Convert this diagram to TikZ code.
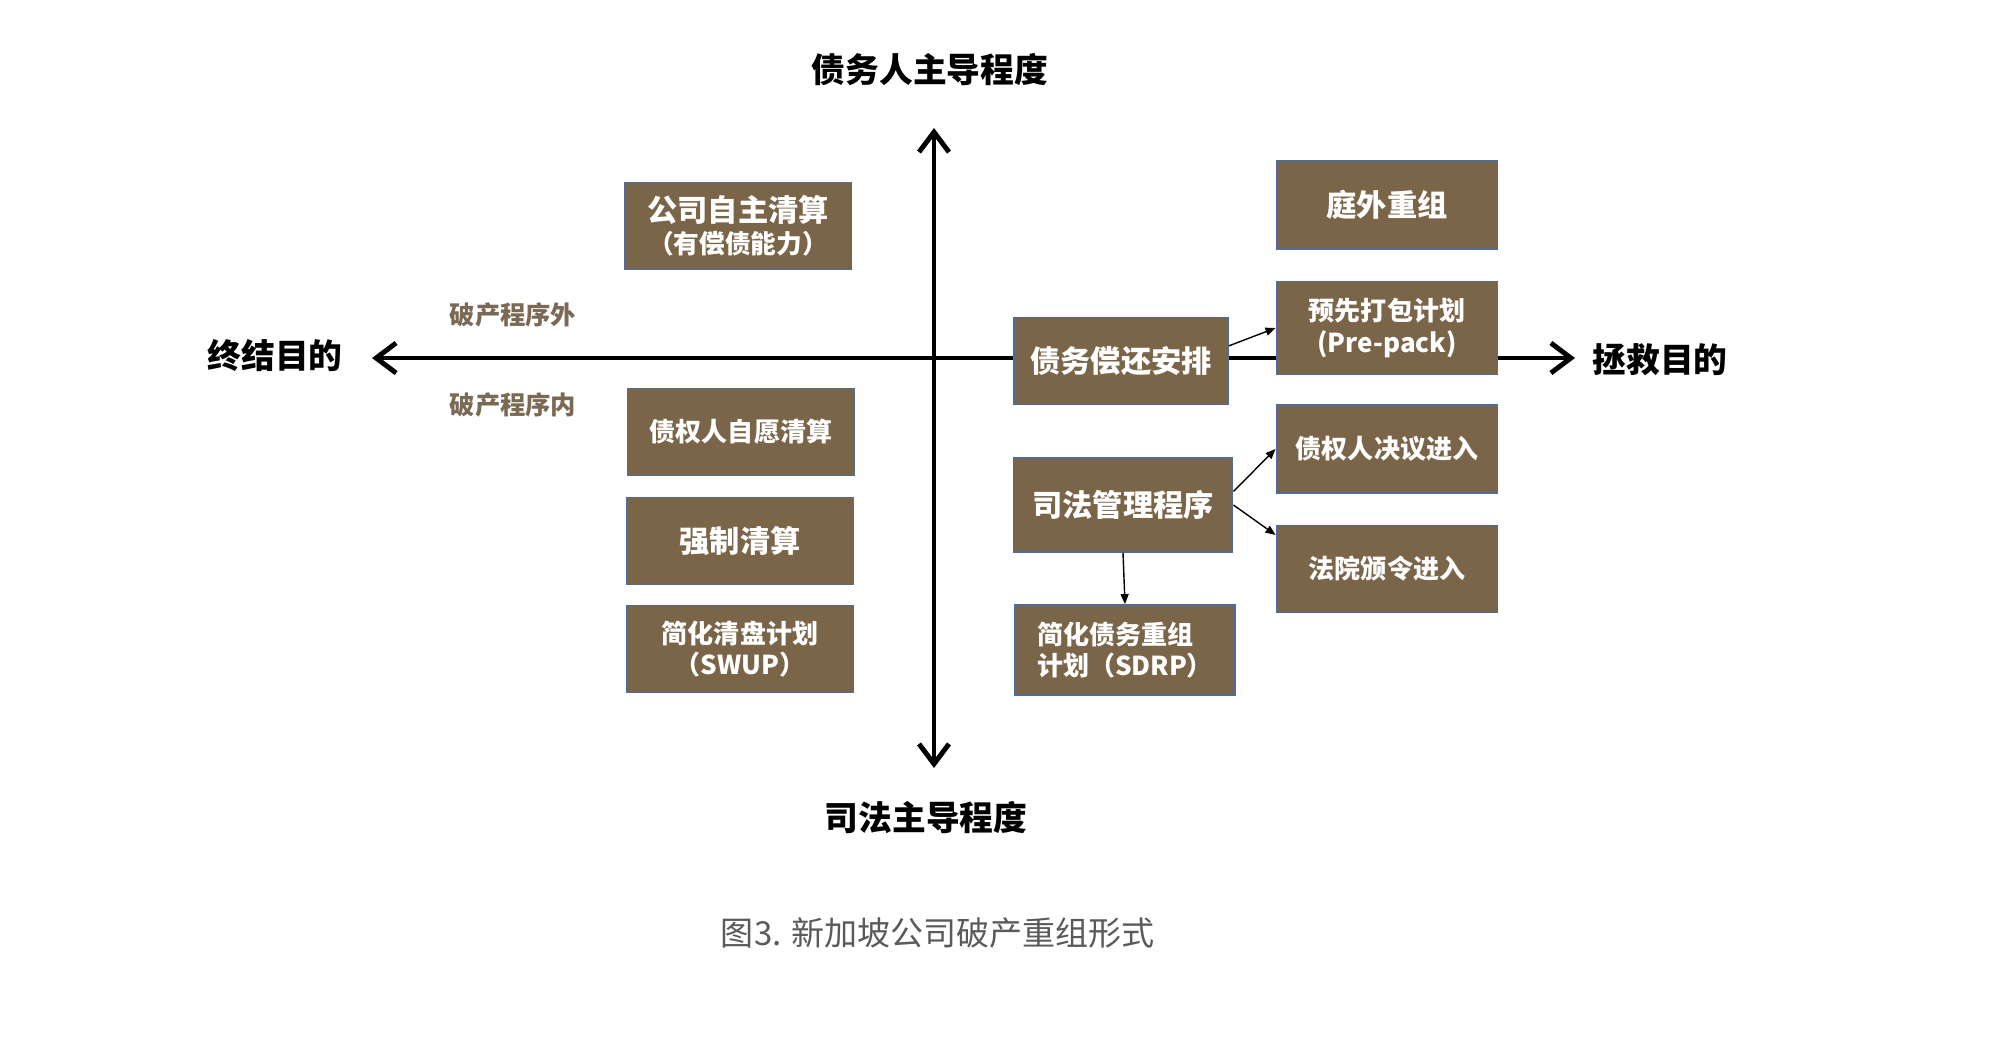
\documentclass[tikz,border=0pt]{standalone}
\usepackage{fontspec}
\setmainfont{Noto Sans CJK SC}
\usetikzlibrary{arrows.meta}
\definecolor{boxbrown}{HTML}{7B6549}
\definecolor{boxedge}{HTML}{4F6D9A}
\definecolor{notebrown}{HTML}{7A6A55}
\definecolor{capgray}{HTML}{5A5A5A}
\tikzset{
  box/.style={draw=boxedge, line width=0.5pt, fill=boxbrown, text=white,
    font=\bfseries\fontsize{8.6}{10}\selectfont, align=center, inner sep=0pt},
  smallbox/.style={box, font=\bfseries\fontsize{7.4}{9}\selectfont},
  lbox/.style={minimum width=2.27cm, minimum height=0.87cm},
  rbox/.style={minimum width=2.21cm, minimum height=0.88cm},
  axislabel/.style={font=\bfseries\fontsize{9.6}{11}\selectfont},
  note/.style={text=notebrown, font=\bfseries\fontsize{7.2}{9}\selectfont},
  axis/.style={line width=1.4pt,
    {Straight Barb[length=2mm,width=3mm]}-{Straight Barb[length=2mm,width=3mm]}},
  link/.style={line width=0.4pt, -{Triangle[length=1mm,width=0.8mm]}}
}
\begin{document}
\begin{tikzpicture}[x=0.01cm,y=-0.01cm]
    \useasboundingbox (0,0) rectangle (1991,1039);
    % axes
    \coordinate (west) at (372,358);
    \coordinate (east) at (1575,358);
    \coordinate (north) at (934,128);
    \coordinate (south) at (934,768);
    \draw[axis] (west) -- (east);
    \draw[axis] (south) -- (north);
    \node[axislabel] (endgoal) at (275,356) {终结目的};
    \node[axislabel] (rescue) at (1660,360) {拯救目的};
    \node[axislabel] (debtorled) at (930,70) {债务人主导程度};
    \node[axislabel] (courtled) at (926,818) {司法主导程度};
    \node[note] (outside) at (513,315) {破产程序外};
    \node[note] (inside) at (513,405) {破产程序内};
    % liquidation side
    \node[box, lbox] (selfliq) at (738,226)
        {公司自主清算\\[-1pt]{\fontsize{7.3}{8}\selectfont（有偿债能力）}};
    \node[smallbox, lbox] (volliq) at (741,432) {债权人自愿清算};
    \node[box, lbox] (compliq) at (740,541) {强制清算};
    \node[smallbox, lbox] (swup) at (740,649) {简化清盘计划\\（SWUP）};
    % rescue side
    \node[box, minimum width=2.14cm, minimum height=0.87cm] (repay) at (1121,361) {债务偿还安排};
    \node[box, minimum width=2.19cm, minimum height=0.94cm] (judicial) at (1123,505) {司法管理程序};
    \node[smallbox, align=left, minimum width=2.2cm, minimum height=0.9cm] (sdrp) at (1125,650)
        {简化债务重组\\计划（SDRP）};
    \node[box, rbox] (outcourt) at (1387,205) {庭外重组};
    \node[smallbox, rbox, minimum height=0.93cm] (prepack) at (1387,328) {预先打包计划\\(Pre-pack)};
    \node[smallbox, rbox] (creditor) at (1387,449) {债权人决议进入};
    \node[smallbox, rbox, minimum height=0.87cm] (court) at (1387,569) {法院颁令进入};
    \draw[link] (repay.8) -- (prepack.west);
    \draw[link] (judicial.7) -- (creditor.west);
    \draw[link] (judicial.east) -- (court.163);
    \draw[link] (judicial.south) -- (sdrp.north);
    % caption
    \node[text=capgray, font=\fontsize{9.4}{11}\selectfont] (caption) at (938,933)
        {图3. 新加坡公司破产重组形式};
\end{tikzpicture}
\end{document}
